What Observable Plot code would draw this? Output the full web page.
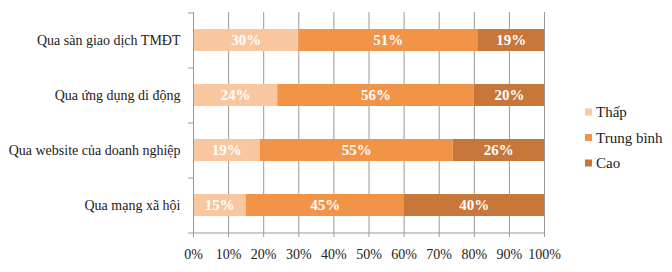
<!DOCTYPE html>
<html>
<head>
<meta charset="utf-8">
<script src="https://cdn.jsdelivr.net/npm/d3@7"></script>
<script src="https://cdn.jsdelivr.net/npm/@observablehq/plot@0.6"></script>
<style>
  html, body { margin: 0; padding: 0; background: #fff; }
</style>
</head>
<body>
<div id="wrap"></div>
<script>
const categories = ["Qua sàn giao dịch TMĐT", "Qua ứng dụng di động", "Qua website của doanh nghiệp", "Qua mạng xã hội"];
const levels = ["Thấp", "Trung bình", "Cao"];
const thap = [30, 24, 19, 15];
const trungBinh = [51, 56, 55, 45];
const cao = [19, 20, 26, 40];
const colors = ["#F8C7A0", "#F29447", "#C8773A"];
const xTicks = [0, 10, 20, 30, 40, 50, 60, 70, 80, 90, 100];

const series = [thap, trungBinh, cao];
const data = [];
categories.forEach((c, i) => {
  levels.forEach((l, j) => data.push({cat: c, level: l, value: series[j][i]}));
});

const serif = "'Liberation Serif', 'Times New Roman', serif";

const plot = Plot.plot({
  width: 672,
  height: 272,
  marginLeft: 193,
  marginRight: 128,
  marginTop: 12,
  marginBottom: 40,
  style: {fontFamily: serif, fontSize: "14px", color: "#222", background: "#fff"},
  x: {domain: [0, 100], ticks: xTicks, tickFormat: d => d + "%", label: null},
  y: {domain: categories, paddingInner: 0.6, paddingOuter: 0.3, label: null},
  color: {domain: levels, range: colors},
  marks: [
    Plot.gridX(xTicks.filter(d => d > 0), {stroke: "#999", strokeOpacity: 1}),
    Plot.barX(data, Plot.stackX({x: "value", y: "cat", fill: "level", order: null})),
    Plot.text(data, Plot.stackX({x: "value", y: "cat", z: "level", text: d => d.value + "%", fill: "white", fontWeight: "bold", fontSize: 15, order: null})),
    Plot.ruleX([0], {stroke: "#999"}),
    Plot.ruleY(categories, {y: d => d, x1: -1.4, x2: 0, dy: -27.5, stroke: "#999"}),
    Plot.ruleY([categories[categories.length - 1]], {y: d => d, x1: -1.4, x2: 100, dy: 27.5, stroke: "#999"}),
    Plot.axisX({ticks: xTicks, tickFormat: d => d + "%", tickSize: 5, tickPadding: 12, stroke: "#999", fontSize: 14, color: "#222", label: null}),
    Plot.axisY({tickSize: 0, tickPadding: 13, fontSize: 14, label: null})
  ]
});
document.getElementById("wrap").appendChild(plot);

// legend inside the SVG
const svg = d3.select(plot);
const lg = svg.append("g")
  .style("font-family", serif)
  .style("font-size", "15px")
  .style("fill", "#222")
  .style("text-anchor", "start");
levels.forEach((l, i) => {
  const cy = 112 + i * 25.5;
  lg.append("rect").attr("x", 585).attr("y", cy - 3.5).attr("width", 7).attr("height", 7).style("fill", colors[i]);
  lg.append("text").attr("x", 596).attr("y", cy).attr("dy", "0.35em")
    .style("font-family", serif).text(l);
});
</script>
</body>
</html>
